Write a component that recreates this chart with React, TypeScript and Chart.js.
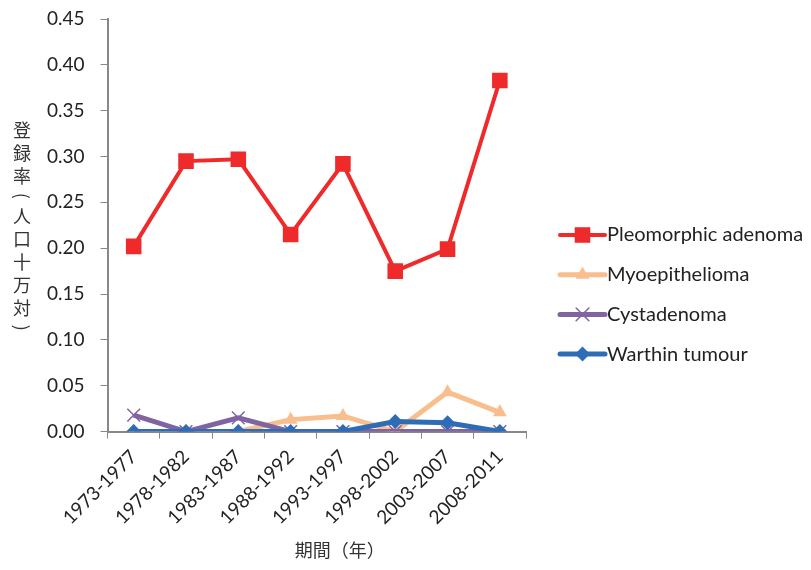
import React, { useEffect, useRef } from 'react';
import { Chart, registerables } from 'chart.js';

Chart.register(...registerables);

const periods = ['1973-1977', '1978-1982', '1983-1987', '1988-1992', '1993-1997', '1998-2002', '2003-2007', '2008-2011'];
const pleomorphic = [0.202, 0.295, 0.297, 0.215, 0.292, 0.175, 0.199, 0.383];
const myoepithelioma = [0, 0, 0, 0.013, 0.017, 0, 0.043, 0.021];
const cystadenoma = [0.018, 0, 0.015, 0, 0, 0, 0, 0];
const warthin = [0, 0, 0, 0, 0, 0.011, 0.0095, 0];
const seriesNames = ['Pleomorphic adenoma', 'Myoepithelioma', 'Cystadenoma', 'Warthin tumour'];
const yTitle = '登録率（人口十万対）';
const xTitle = '期間（年）';

const LATIN = 'Lato, "Noto Sans", sans-serif';
const CJK = '"Noto Sans CJK JP", sans-serif';

function drawMarker(ctx: CanvasRenderingContext2D, style: string, x: number, y: number, r: number, color: string) {
  ctx.save();
  ctx.fillStyle = color;
  ctx.strokeStyle = color;
  ctx.beginPath();
  if (style === 'rect') {
    const s = r * Math.SQRT1_2;
    ctx.rect(x - s, y - s, 2 * s, 2 * s);
    ctx.fill();
  } else if (style === 'triangle') {
    ctx.moveTo(x, y - r);
    ctx.lineTo(x + r * 0.866, y + r * 0.5);
    ctx.lineTo(x - r * 0.866, y + r * 0.5);
    ctx.closePath();
    ctx.fill();
  } else if (style === 'rectRot') {
    ctx.moveTo(x, y - r);
    ctx.lineTo(x + r, y);
    ctx.lineTo(x, y + r);
    ctx.lineTo(x - r, y);
    ctx.closePath();
    ctx.fill();
  } else if (style === 'crossRot') {
    const s = r * Math.SQRT1_2;
    ctx.lineWidth = 1.5;
    ctx.moveTo(x - s, y - s);
    ctx.lineTo(x + s, y + s);
    ctx.moveTo(x - s, y + s);
    ctx.lineTo(x + s, y - s);
    ctx.stroke();
  }
  ctx.restore();
}

const extrasPlugin = {
  id: 'extras',
  afterDraw(chart: any) {
    const ctx: CanvasRenderingContext2D = chart.ctx;
    const area = chart.chartArea;
    ctx.save();
    // legend
    const ds = chart.data.datasets;
    const lx = area.right + 34;
    const rowH = 39.7;
    const startY = chart.height / 2 - 50;
    ds.forEach((d: any, i: number) => {
      const y = startY + i * rowH;
      ctx.strokeStyle = d.borderColor;
      ctx.lineWidth = d.borderWidth;
      ctx.lineCap = 'round';
      ctx.beginPath();
      ctx.moveTo(lx, y);
      ctx.lineTo(lx + 45, y);
      ctx.stroke();
      drawMarker(ctx, d.pointStyle, lx + 22.5, y, d.pointRadius, d.pointBackgroundColor);
      ctx.fillStyle = '#222';
      ctx.font = '20px ' + LATIN;
      ctx.textAlign = 'left';
      ctx.textBaseline = 'middle';
      ctx.fillText(d.label, lx + 47, y);
    });
    // y title (vertical characters; brackets turned)
    ctx.fillStyle = '#333';
    ctx.font = '18px ' + CJK;
    ctx.textAlign = 'center';
    ctx.textBaseline = 'middle';
    const chars = Array.from(yTitle);
    const tx = 14;
    const steps = chars.map((c) => (c === '（' || c === '）' ? 17 : 23));
    const total = steps.reduce((a, b) => a + b, 0);
    let y = (area.top + area.bottom) / 2 - total / 2 + 2;
    chars.forEach((c, i) => {
      const cy = y + steps[i] / 2;
      if (c === '（' || c === '）') {
        ctx.save();
        ctx.translate(tx, cy);
        ctx.rotate(Math.PI / 2);
        ctx.fillText(c === '（' ? '(' : ')', 0, 0);
        ctx.restore();
      } else {
        ctx.fillText(c, tx, cy);
      }
      y += steps[i];
    });
    // x title
    ctx.font = '18px ' + CJK;
    ctx.fillText(xTitle, (area.left + area.right) / 2 + 23, chart.height - 12);
    ctx.restore();
  },
};

export default function App() {
  const ref = useRef<HTMLCanvasElement | null>(null);
  useEffect(() => {
    if (!ref.current) return;
    const chart = new Chart(ref.current, {
      type: 'line',
      data: {
        labels: periods,
        datasets: [
          {
            label: seriesNames[0], data: pleomorphic, borderColor: '#EE2A2A', backgroundColor: '#EE2A2A',
            pointBackgroundColor: '#EE2A2A', pointBorderColor: '#EE2A2A', borderWidth: 4, pointStyle: 'rect',
            pointRadius: 11, pointBorderWidth: 0, order: 3,
          },
          {
            label: seriesNames[1], data: myoepithelioma, borderColor: '#F9BE8E', backgroundColor: '#F9BE8E',
            pointBackgroundColor: '#F9BE8E', pointBorderColor: '#F9BE8E', borderWidth: 5, pointStyle: 'triangle',
            pointRadius: 8, pointBorderWidth: 0, order: 2,
          },
          {
            label: seriesNames[2], data: cystadenoma, borderColor: '#8064A2', backgroundColor: '#8064A2',
            pointBackgroundColor: '#8064A2', pointBorderColor: '#8064A2', borderWidth: 5, pointStyle: 'crossRot',
            pointRadius: 9, pointBorderWidth: 1.5, order: 1,
          },
          {
            label: seriesNames[3], data: warthin, borderColor: '#2E6DB6', backgroundColor: '#2E6DB6',
            pointBackgroundColor: '#2E6DB6', pointBorderColor: '#2E6DB6', borderWidth: 5, pointStyle: 'rectRot',
            pointRadius: 7.5, pointBorderWidth: 0, order: 0,
          },
        ],
      },
      options: {
        responsive: false,
        animation: false,
        layout: { padding: { left: 23, right: 277, top: 11, bottom: 26 } },
        plugins: { legend: { display: false }, tooltip: { enabled: false } },
        elements: { line: { tension: 0 } },
        scales: {
          x: {
            offset: true,
            grid: { display: true, drawOnChartArea: false, drawTicks: true, tickLength: 7, color: '#888', offset: true },
            border: { display: true, color: '#888', width: 2 },
            ticks: { color: '#222', font: { family: LATIN, size: 19 }, minRotation: 45, maxRotation: 45, padding: 7 },
          },
          y: {
            min: 0,
            max: 0.45,
            afterFit: (scale: any) => { scale.paddingTop = 0; scale.paddingBottom = 0; },
            grid: { display: true, drawOnChartArea: false, drawTicks: true, tickLength: 7, color: '#888' },
            border: { display: true, color: '#888', width: 2 },
            ticks: {
              stepSize: 0.05, color: '#222', font: { family: LATIN, size: 19 }, padding: 16,
              callback: (v: any) => Number(v).toFixed(2),
            },
          },
        },
      },
      plugins: [extrasPlugin],
    });
    return () => chart.destroy();
  }, []);
  return <canvas ref={ref} width={795} height={554} />;
}
